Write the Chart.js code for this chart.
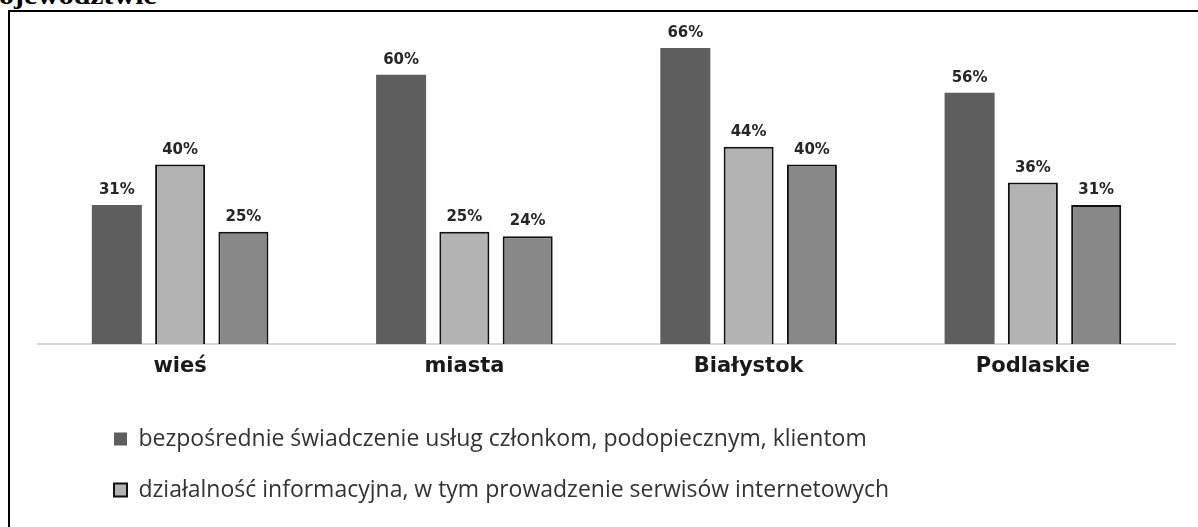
<!DOCTYPE html>
<html>
<head>
<meta charset="utf-8">
<script src="https://cdn.jsdelivr.net/npm/chart.js@4/dist/chart.umd.min.js"></script>
<style>
  html, body { margin: 0; padding: 0; background: #fff; overflow: hidden; width: 1198px; height: 527px; }
  #title {
    position: absolute; left: -1px; top: -17px;
    font: bold 26px "Liberation Serif", "Times New Roman", serif;
    line-height: 26px; color: #000; white-space: nowrap;
    transform: scaleX(1.15); transform-origin: left top;
  }
  #frame {
    position: absolute; left: 8px; top: 10px;
    width: 1200px; height: 515px;
    border-left: 2px solid #000; border-top: 2px solid #000;
  }
</style>
</head>
<body>
<div id="title">ojewództwie</div>
<div id="frame"><canvas id="chart"></canvas></div>
<script>
/************ DATA ************/
const categories = ["wieś", "miasta", "Białystok", "Podlaskie"];

const seriesNames = [
  "bezpośrednie świadczenie usług członkom, podopiecznym, klientom",
  "działalność informacyjna, w tym prowadzenie serwisów internetowych",
  "pozostałe",
];

const directServices = [31, 60, 66, 56];
const information = [40, 25, 44, 36];
const thirdSeries = [25, 24, 40, 31];

/************ STYLE ************/
const LEGEND_SHIFT = 48;

// value labels above each bar
const barLabels = {
  id: "barLabels",
  afterDatasetsDraw(chart) {
    const ctx = chart.ctx;
    ctx.save();
    ctx.font = "bold 15px 'DejaVu Sans', Verdana, sans-serif";
    ctx.fillStyle = "#262626";
    ctx.textAlign = "center";
    ctx.textBaseline = "alphabetic";
    chart.data.datasets.forEach((ds, i) => {
      chart.getDatasetMeta(i).data.forEach((bar, j) => {
        ctx.fillText(ds.data[j] + "%", bar.x, bar.y - 11);
      });
    });
    ctx.restore();
  },
};

// legend sits further right than chart.js would put it
const legendShift = {
  id: "legendShift",
  afterLayout(chart) {
    chart.legend.left += LEGEND_SHIFT;
    chart.legend.right += LEGEND_SHIFT;
  },
};

/************ CHART ************/
const ctx = document.getElementById("chart").getContext("2d");
const chart = new Chart(ctx, {
  type: "bar",
  data: {
    labels: categories,
    datasets: [
      {
        label: seriesNames[0],
        data: directServices,
        backgroundColor: "#5e5e5e",
        borderWidth: 0,
      },
      {
        label: seriesNames[1],
        data: information,
        backgroundColor: "#b3b3b3",
        borderColor: "#111",
        borderWidth: 2,
      },
      {
        label: seriesNames[2],
        data: thirdSeries,
        backgroundColor: "#888888",
        borderColor: "#111",
        borderWidth: 2,
      },
    ],
  },
  plugins: [barLabels, legendShift],
  options: {
    responsive: true,
    maintainAspectRatio: false,
    animation: false,
    layout: { padding: { left: 28, right: 35, top: 18, bottom: 15.5 } },
    datasets: {
      bar: { categoryPercentage: 0.668, barPercentage: 0.79 },
    },
    scales: {
      x: {
        grid: { display: false, drawTicks: false },
        border: { display: true, color: "#d9d9d9", width: 2 },
        ticks: {
          padding: 10,
          color: "#1a1a1a",
          font: { family: "'DejaVu Sans', Verdana, sans-serif", size: 21, weight: "bold" },
        },
        afterFit(scale) {
          scale.height = 55.5;
        },
      },
      y: {
        display: false,
        min: 0,
        max: 70,
      },
    },
    plugins: {
      tooltip: { enabled: false },
      legend: {
        position: "bottom",
        align: "start",
        labels: {
          boxWidth: 13,
          boxHeight: 13,
          padding: 28,
          color: "#333",
          font: { family: "'Open Sans', sans-serif", size: 23 },
          filter: (item) => item.datasetIndex < 2,
        },
      },
    },
  },
});
</script>
</body>
</html>
